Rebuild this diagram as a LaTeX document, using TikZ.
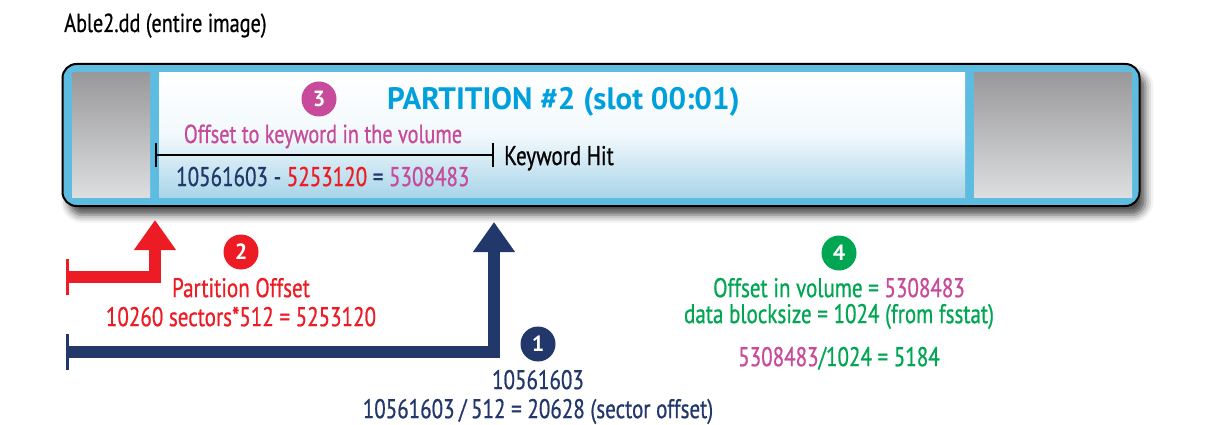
\documentclass[tikz,border=0pt]{standalone}
\usepackage{fontspec}
\setmainfont[FakeStretch=0.78,FakeBold=0.7]{PT Sans}
\newfontfamily\ttlfont{PT Sans}
\usetikzlibrary{positioning,arrows.meta,shadows.blur}
\definecolor{frameblue}{HTML}{5FBCE1}
\definecolor{titleblue}{HTML}{00A0DC}
\definecolor{navy}{HTML}{22386B}
\definecolor{kred}{HTML}{ED1C24}
\definecolor{kpink}{HTML}{C74A9B}
\definecolor{kgreen}{HTML}{00A651}
\definecolor{grayT}{HTML}{99999C}
\definecolor{grayB}{HTML}{DDDEE0}
\definecolor{panelB}{HTML}{A9D5E9}

\begin{document}
\begin{tikzpicture}[x=1pt,y=-1pt,line join=miter,
	box/.style={minimum width=#1,minimum height=124pt,inner sep=0pt},
	num/.style={circle,fill=#1,text=white,font=\ttlfont\fontsize{22}{22}\selectfont\bfseries,minimum size=35pt,inner sep=0pt},
	lbl/.style={font=\fontsize{27}{29}\selectfont,align=center,inner sep=0pt},
	offs/.style={line width=12pt,{Bar[width=36pt,line width=3pt]}-{Triangle[width=40pt,length=30pt]}}]
	\useasboundingbox (0,0) rectangle (1226,425);
	\node[anchor=base west,inner sep=0pt,font=\fontsize{26}{26}\selectfont] (name) at (64,32) {Able2.dd (entire image)};
	
	% the image and its partitions
	\node[draw,line width=2pt,rounded corners=14pt,fill=frameblue,minimum width=1077pt,minimum height=142pt,
	blur shadow={shadow xshift=6pt,shadow yshift=-9pt,shadow blur radius=8pt,shadow opacity=70}] (img) at (601,135) {};
	\node[box=78pt,top color=grayT,bottom color=grayB] (mbr) at (111,135) {};
	\node[box=806pt,top color=white,bottom color=panelB,middle color=white!85!panelB] (part) at (562,135) {};
	\node[box=158pt,top color=grayT,bottom color=grayB] (tail) at (1053,135) {};
	
	\node[num=kpink] (c3) at (319,99) {3};
	\node[anchor=base west,inner sep=0pt,text=titleblue,font=\ttlfont\fontsize{31}{31}\selectfont\bfseries] (ptitle) at (387,110) {PARTITION \#2 (slot 00:01)};
	\node[anchor=base,lbl,text=kpink,font=\fontsize{26}{26}\selectfont] (kwtxt) at (323,143) {Offset to keyword in the volume};
	\coordinate (kwL) at (155,155);
	\coordinate (kwR) at (494,155);
	\draw[line width=2pt,{Bar[width=24pt]}-{Bar[width=24pt]}] (kwL) -- (kwR);
	\node[anchor=base west,lbl] (hit) at (504,165) {Keyword Hit};
	\node[anchor=base west,lbl] (eq) at (176,186) {\color{navy}10561603 - \color{kred}5253120 \color{navy}= \color{kpink}5308483};
	
	% offsets
	\coordinate (redL) at (66,277);
	\coordinate (redT) at (kwL |- 0,220);
	\draw[offs,kred] (redL) -| (redT);
	\coordinate (blueL) at (66,352);
	\coordinate (blueT) at (kwR |- 0,222);
	\draw[offs,navy] (blueL) -| (blueT);
	
	\node[num=kred] (c2) at (241,252) {2};
	\node[lbl,text=kred,below=8pt of c2] (poff) {Partition Offset\\10260 sectors*512 = 5253120};
	\node[num=navy] (c1) at (538,344) {1};
	\node[lbl,text=navy,below=8pt of c1] (soff) {10561603\\10561603\,/\,512 = 20628 (sector offset)};
	\node[num=kgreen] (c4) at (839,253) {4};
	\node[lbl,text=kgreen,below=7pt of c4,font=\fontsize{27}{26}\selectfont] (blk) {Offset in volume = \textcolor{kpink}{5308483}\\data blocksize = 1024 (from fsstat)\\[17pt]\textcolor{kpink}{5308483}/1024 = 5184};
\end{tikzpicture}
\end{document}
